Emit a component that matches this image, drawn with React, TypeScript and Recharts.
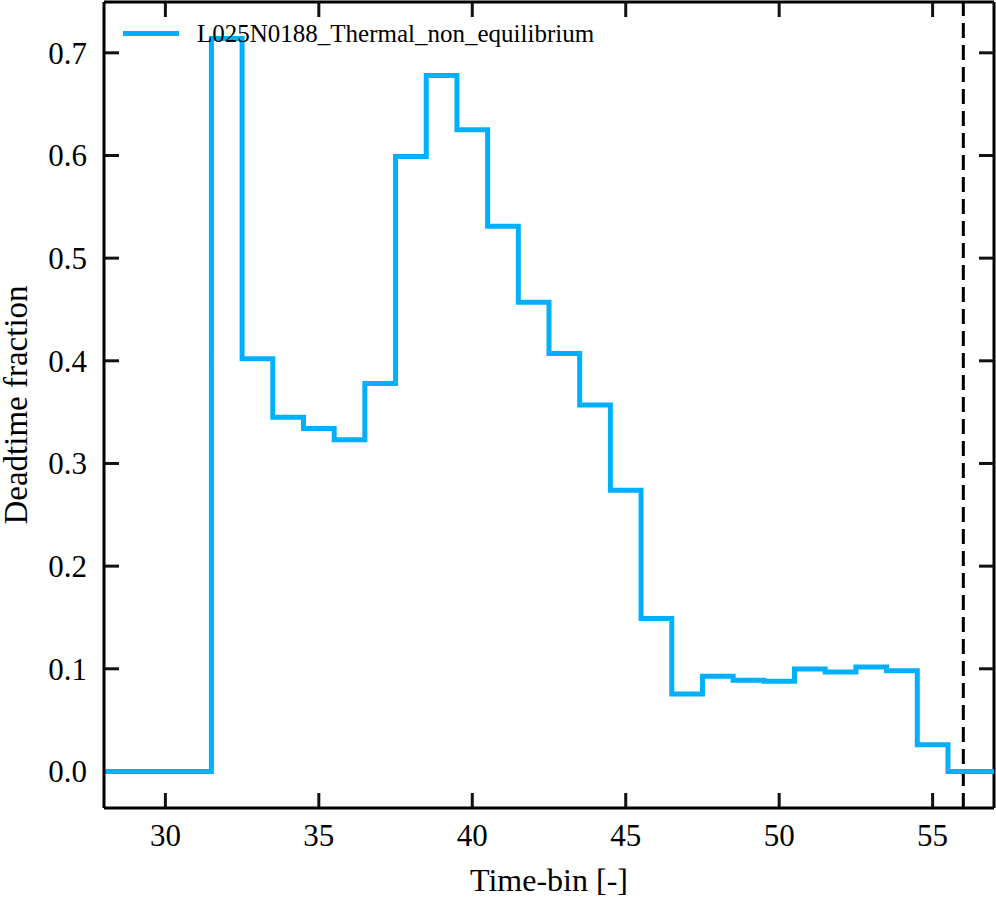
import React from 'react';
import { LineChart, Line, XAxis, YAxis, ReferenceLine, Legend } from 'recharts';

const timeBins = [28, 29, 30, 31, 32, 33, 34, 35, 36, 37, 38, 39, 40, 41, 42, 43, 44, 45, 46, 47, 48, 49, 50, 51, 52, 53, 54, 55, 56, 57];
const deadtimeFraction = [
  0, 0, 0, 0, 0.714, 0.402, 0.345, 0.334, 0.323, 0.378, 0.599, 0.678, 0.625, 0.531, 0.457, 0.407, 0.357,
  0.274, 0.149, 0.0755, 0.0927, 0.0888, 0.0878, 0.0998, 0.0969, 0.1017, 0.0982, 0.026, 0, 0,
];
const xTicks = [30, 35, 40, 45, 50, 55];
const yTicks = [0, 0.1, 0.2, 0.3, 0.4, 0.5, 0.6, 0.7];
const seriesName = 'L025N0188_Thermal_non_equilibrium';
const markerX = 56;
const xDomain = [28, 57];
const yDomain = [-0.0356, 0.7495];

const data = timeBins.map((t, i) => ({ t, frac: deadtimeFraction[i] }));

const FONT = '"Liberation Serif", "Times New Roman", serif';
const BLUE = '#00b0ff';
const INK = '#111111';

const W = 996;
const H = 900;
const M = { top: 2, right: 2, bottom: 0, left: 0 };
const Y_AXIS_W = 104;
const X_AXIS_H = 92;
const PLOT_W = W - M.left - M.right - Y_AXIS_W;
const PLOT_H = H - M.top - M.bottom - X_AXIS_H;
const TICK_PX = 15;
const tickDX = (TICK_PX * (xDomain[1] - xDomain[0])) / PLOT_W;
const tickDY = (TICK_PX * (yDomain[1] - yDomain[0])) / PLOT_H;

const LegendContent = (props: any) => {
  const items = props.payload || [];
  return (
    <div style={{ position: 'relative', width: 0, height: 0, overflow: 'visible' }}>
      {items.map((it: any) => (
        <div key={it.value} style={{ position: 'absolute', left: 0, top: 0 }}>
          <div style={{ position: 'absolute', left: 123, top: 30.5, width: 56, height: 5, background: it.color }} />
          <div
            style={{
              position: 'absolute',
              left: 197,
              top: 19,
              height: 29,
              lineHeight: '29px',
              fontFamily: FONT,
              fontSize: 25,
              color: '#000',
              whiteSpace: 'nowrap',
            }}
          >
            {it.value}
          </div>
        </div>
      ))}
    </div>
  );
};

const BottomTick = (p: any) => (
  <text x={p.x} y={p.y + 38} textAnchor="middle" style={{ fontFamily: FONT, fontSize: 31, fill: '#000' }}>
    {p.payload.value}
  </text>
);

const LeftTick = (p: any) => (
  <text x={p.x - 17} y={p.y + 11} textAnchor="end" style={{ fontFamily: FONT, fontSize: 31, fill: '#000' }}>
    {Number(p.payload.value).toFixed(1)}
  </text>
);

export default function App() {
  const tickMarks: React.ReactNode[] = [];
  xTicks.forEach((t) => {
    tickMarks.push(
      <ReferenceLine
        key={`xb${t}`}
        ifOverflow="visible"
        segment={[{ x: t, y: yDomain[0] }, { x: t, y: yDomain[0] + tickDY }]}
        stroke={INK}
        strokeWidth={3}
      />,
      <ReferenceLine
        key={`xt${t}`}
        ifOverflow="visible"
        segment={[{ x: t, y: yDomain[1] }, { x: t, y: yDomain[1] - tickDY }]}
        stroke={INK}
        strokeWidth={3}
      />,
    );
  });
  yTicks.forEach((v) => {
    tickMarks.push(
      <ReferenceLine
        key={`yl${v}`}
        ifOverflow="visible"
        segment={[{ x: xDomain[0], y: v }, { x: xDomain[0] + tickDX, y: v }]}
        stroke={INK}
        strokeWidth={3}
      />,
      <ReferenceLine
        key={`yr${v}`}
        ifOverflow="visible"
        segment={[{ x: xDomain[1], y: v }, { x: xDomain[1] - tickDX, y: v }]}
        stroke={INK}
        strokeWidth={3}
      />,
    );
  });

  return (
    <div style={{ position: 'absolute', left: 0, top: 0, background: '#fff' }}>
      <LineChart width={W} height={H} data={data} margin={M}>
        <XAxis
          dataKey="t"
          type="number"
          domain={xDomain}
          ticks={xTicks}
          height={X_AXIS_H}
          tickSize={0}
          tickMargin={0}
          tickLine={false}
          axisLine={{ stroke: '#000', strokeWidth: 3 }}
          tick={<BottomTick />}
          label={{
            value: 'Time-bin [-]',
            position: 'insideBottom',
            offset: 9,
            style: { fontFamily: FONT, fontSize: 32, fill: '#000' },
          }}
        />
        <YAxis
          type="number"
          domain={yDomain}
          ticks={yTicks}
          width={Y_AXIS_W}
          tickSize={0}
          tickMargin={0}
          tickLine={false}
          axisLine={{ stroke: '#000', strokeWidth: 3 }}
          tick={<LeftTick />}
          label={{
            value: 'Deadtime fraction',
            angle: -90,
            position: 'insideLeft',
            offset: 15,
            style: { fontFamily: FONT, fontSize: 33, fill: '#000', textAnchor: 'middle' },
          }}
        />
        <ReferenceLine
          ifOverflow="visible"
          segment={[{ x: xDomain[0], y: yDomain[1] }, { x: xDomain[1], y: yDomain[1] }]}
          stroke="#000"
          strokeWidth={3}
        />
        <ReferenceLine
          ifOverflow="visible"
          segment={[{ x: xDomain[1], y: yDomain[0] }, { x: xDomain[1], y: yDomain[1] }]}
          stroke="#000"
          strokeWidth={3}
        />
        {tickMarks}
        <ReferenceLine x={markerX} stroke="#000" strokeWidth={3} strokeDasharray="15 7" />
        <Line
          type="step"
          dataKey="frac"
          name={seriesName}
          stroke={BLUE}
          strokeWidth={5}
          dot={false}
          activeDot={false}
          isAnimationActive={false}
        />
        <Legend
          content={<LegendContent />}
          wrapperStyle={{ position: 'absolute', left: 0, top: 0, width: 0, height: 0, overflow: 'visible' }}
        />
      </LineChart>
    </div>
  );
}
